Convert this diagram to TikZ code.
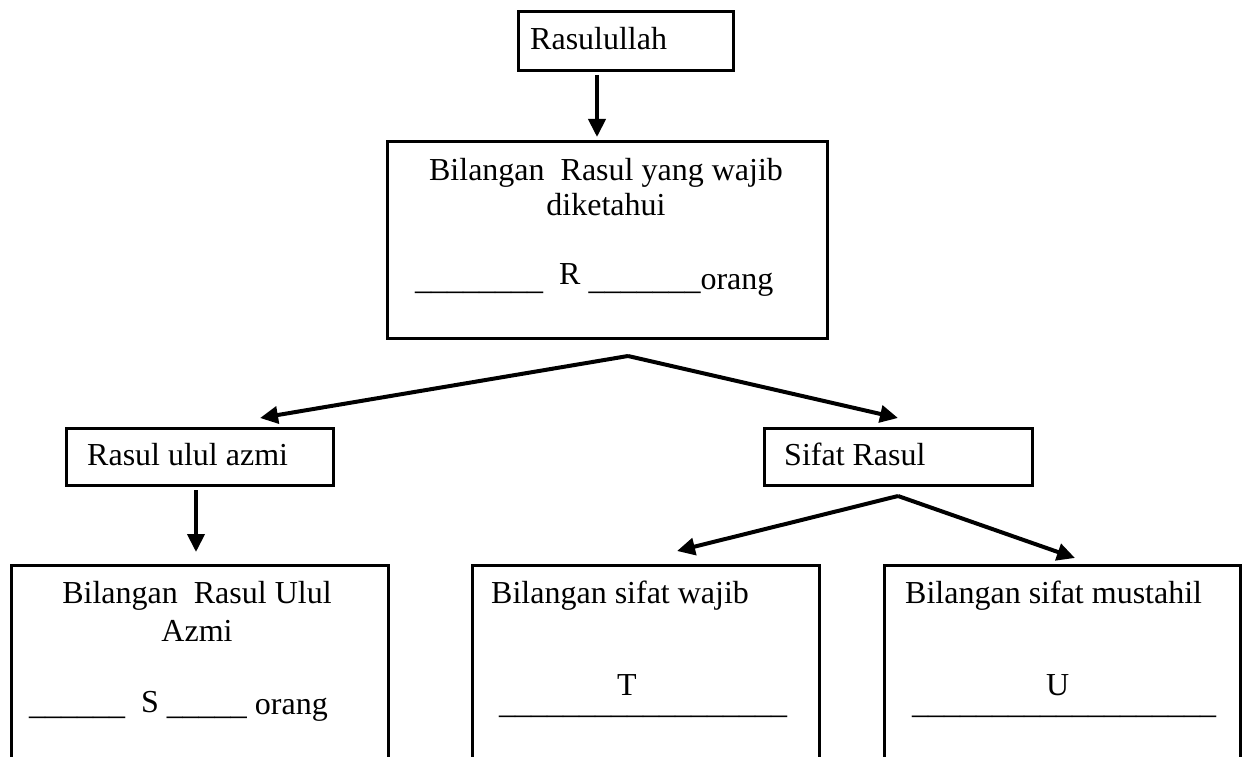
\documentclass[tikz,border=0pt]{standalone}
\usepackage{fontspec}
\setmainfont{Liberation Serif}
\usetikzlibrary{arrows.meta}
\begin{document}
\begin{tikzpicture}[x=1pt,y=-1pt,
  box/.style={draw=black, line width=2.6pt, inner sep=0pt, anchor=north west},
  lbl/.style={inner sep=0pt, font=\fontsize{32}{35}\selectfont},
  blank/.style={inner sep=0pt, align=left, anchor=north west, font=\fontsize{32}{18}\selectfont},
  arr/.style={line width=4pt, -{Triangle[length=18pt,width=17pt]}}]
\useasboundingbox (0,0) rectangle (1248,757);
\clip (0,0) rectangle (1248,757);
\fill[white] (0,0) rectangle (1248,757);
% boxes
\node[box, minimum width=215, minimum height=59] (rasul) at (517,10) {};
\node[box, minimum width=440, minimum height=197] (bil) at (386,140) {};
\node[box, minimum width=267, minimum height=57] (ulul) at (65,427) {};
\node[box, minimum width=268, minimum height=57] (sifat) at (763,427) {};
\node[box, minimum width=377, minimum height=260] (b1) at (10,564) {};
\node[box, minimum width=347, minimum height=260] (b2) at (471,564) {};
\node[box, minimum width=356, minimum height=260] (b3) at (883,564) {};
% texts
\node[lbl, anchor=base west] (trasul) at (530,50) {Rasulullah};
\node[lbl, anchor=base] (tbil1) at (606,180) {Bilangan\ \ Rasul yang wajib};
\node[lbl, anchor=base] (tbil2) at (606,215) {diketahui};
\node[lbl, anchor=base west] (tbil3) at (415,289) {\_\_\_\_\_\_\_\_\ \ \raisebox{5pt}{R} \_\_\_\_\_\_\_orang};
\node[lbl, anchor=base west] (tulul) at (87,465) {Rasul ulul azmi};
\node[lbl, anchor=base west] (tsifat) at (784,465) {Sifat Rasul};
\node[lbl, anchor=base] (tb11) at (197,603) {Bilangan\ \ Rasul Ulul};
\node[lbl, anchor=base] (tb12) at (197,641) {Azmi};
\node[lbl, anchor=base west] (tb13) at (29,714) {\_\_\_\_\_\_\ \ \raisebox{2pt}{S} \_\_\_\_\_ orang};
\node[lbl, anchor=base west] (tb21) at (491,603) {Bilangan sifat wajib};
\node[blank] (tb22) at (499,674) {\hspace*{118pt}T\\\_\_\_\_\_\_\_\_\_\_\_\_\_\_\_\_\_\_};
\node[lbl, anchor=base west] (tb31) at (905,603) {Bilangan sifat mustahil};
\node[blank] (tb32) at (912,674) {\hspace*{134pt}U\\\_\_\_\_\_\_\_\_\_\_\_\_\_\_\_\_\_\_\_};
% connector points
\coordinate (a0) at (597,75);
\coordinate (a1) at (597,137);
\coordinate (f1) at (628,356);
\coordinate (t1) at (260,418);
\coordinate (t2) at (898,418);
\coordinate (u0) at (196,490);
\coordinate (u1) at (196,552);
\coordinate (f2) at (898,496);
\coordinate (t3) at (677,551);
\coordinate (t4) at (1075,558);
% connectors
\draw[arr] (a0) -- (a1);
\draw[arr] (f1) -- (t1);
\draw[arr] (f1) -- (t2);
\draw[arr] (u0) -- (u1);
\draw[arr] (f2) -- (t3);
\draw[arr] (f2) -- (t4);
\end{tikzpicture}
\end{document}
